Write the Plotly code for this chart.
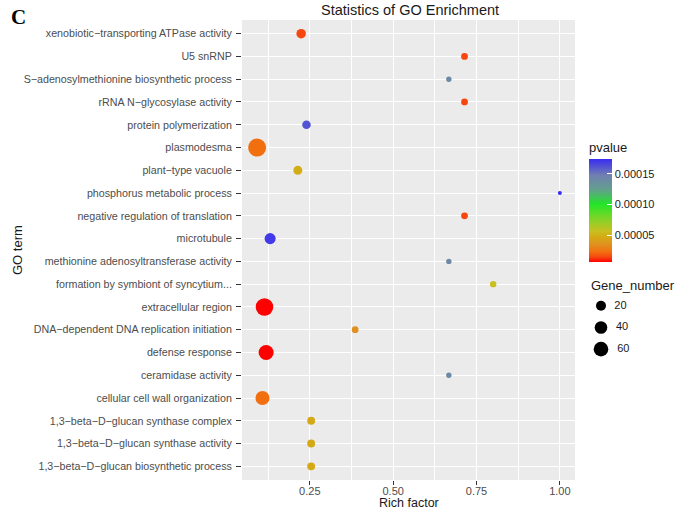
import numpy as np
import plotly.graph_objects as go

# ---------------- data ----------------
terms = [
    "xenobiotic−transporting ATPase activity",
    "U5 snRNP",
    "S−adenosylmethionine biosynthetic process",
    "rRNA N−glycosylase activity",
    "protein polymerization",
    "plasmodesma",
    "plant−type vacuole",
    "phosphorus metabolic process",
    "negative regulation of translation",
    "microtubule",
    "methionine adenosyltransferase activity",
    "formation by symbiont of syncytium...",
    "extracellular region",
    "DNA−dependent DNA replication initiation",
    "defense response",
    "ceramidase activity",
    "cellular cell wall organization",
    "1,3−beta−D−glucan synthase complex",
    "1,3−beta−D−glucan synthase activity",
    "1,3−beta−D−glucan biosynthetic process",
]
rich_factor = [0.224, 0.714, 0.667, 0.714, 0.240, 0.092, 0.214, 1.000, 0.714, 0.131,
               0.667, 0.800, 0.114, 0.386, 0.119, 0.667, 0.108, 0.254, 0.254, 0.254]
gene_number = [17, 5, 2, 5, 12, 104, 14, 1, 5, 27,
               2, 4, 98, 5, 65, 2, 54, 9, 9, 9]
pvalue = [1.45e-5, 1.45e-5, 1.4e-4, 1.45e-5, 1.62e-4, 2.3e-5, 4.8e-5, 1.74e-4, 1.45e-5, 1.7e-4,
          1.4e-4, 5.7e-5, 6.5e-6, 3.5e-5, 6.5e-6, 1.4e-4, 2.3e-5, 4.6e-5, 4.6e-5, 4.6e-5]
legend_sizes = [20, 40, 60]
x_ticks = [0.25, 0.50, 0.75, 1.00]
x_tick_labels = ["0.25", "0.50", "0.75", "1.00"]
p_ticks = [0.00005, 0.00010, 0.00015]
p_tick_labels = ["0.00005", "0.00010", "0.00015"]

# ---------------- size scale (ggplot-like area scale) ----------------
gmin, gmax = min(gene_number), max(gene_number)
def size_px(g):
    return 4 + 14 * np.sqrt((np.asarray(g, float) - gmin) / (gmax - gmin))

colorscale = [
    [0.00, "#FF0000"],
    [0.05, "#F54A10"],
    [0.10, "#F27010"],
    [0.17, "#E09020"],
    [0.24, "#D4AA14"],
    [0.30, "#C8C020"],
    [0.42, "#80D428"],
    [0.56, "#22E628"],
    [0.70, "#62A08C"],
    [0.84, "#7080B0"],
    [1.00, "#3A2CF2"],
]

GRAY = "#4D4D4D"
DARK = "#1A1A1A"
FONT = "Liberation Sans, Arial, sans-serif"

# pixel layout
W, H = 677, 510
ML, MR, MT, MB = 242, 5, 20, 30
PW, PH = W - ML - MR, H - MT - MB
PANEL_RIGHT = 575
def px_x(x):
    return (x - ML) / PW
def px_y(y):
    return (H - MB - y) / PH

fig = go.Figure()

fig.add_trace(go.Scatter(
    x=rich_factor, y=terms, mode="markers",
    marker=dict(
        size=size_px(gene_number), sizemode="diameter",
        color=pvalue, colorscale=colorscale,
        cmin=min(pvalue), cmax=max(pvalue),
        line=dict(width=0), opacity=1,
        colorbar=dict(
            title=dict(text="pvalue", side="top", font=dict(size=13, color=DARK, family=FONT)),
            x=px_x(589), xanchor="left", xpad=0,
            y=px_y(200.5), yanchor="middle", ypad=0,
            len=123, lenmode="pixels", thickness=23, thicknessmode="pixels",
            outlinewidth=0,
            tickvals=p_ticks, ticktext=p_tick_labels,
            ticks="inside", ticklen=5, tickcolor="white", tickwidth=1,
            tickfont=dict(size=11, color=DARK, family=FONT),
        ),
    ),
    showlegend=False, hoverinfo="x+y",
))

# size legend on hidden secondary axes
fig.add_trace(go.Scatter(
    x=[11] * len(legend_sizes), y=[str(s) for s in legend_sizes],
    mode="markers+text",
    text=["  " + str(s) for s in legend_sizes],
    textposition="middle right",
    textfont=dict(size=11, color=DARK, family=FONT),
    marker=dict(size=size_px(legend_sizes), sizemode="diameter", color="#000000",
                opacity=1, line=dict(width=0)),
    xaxis="x2", yaxis="y2", showlegend=False, hoverinfo="skip", cliponaxis=False,
))

fig.update_layout(
    width=W, height=H,
    margin=dict(l=ML, r=MR, t=MT, b=MB, autoexpand=False),
    paper_bgcolor="white", plot_bgcolor="rgba(0,0,0,0)",
    font=dict(family=FONT, color=GRAY),
    xaxis=dict(
        domain=[0, px_x(PANEL_RIGHT)],
        range=[0.0466, 1.0454],
        tickvals=x_ticks, ticktext=x_tick_labels,
        tickfont=dict(size=11, color=GRAY),
        ticks="outside", ticklen=4, tickcolor="#333333", tickwidth=1,
        ticklabelstandoff=-3,
        showgrid=True, gridcolor="white", gridwidth=1.1,
        minor=dict(tick0=0.125, dtick=0.25, showgrid=True, gridcolor="white", gridwidth=0.5, ticks=""),
        zeroline=False, showline=False, automargin=False,
    ),
    yaxis=dict(
        type="category",
        categoryorder="array", categoryarray=terms[::-1],
        range=[-0.6, len(terms) - 0.4],
        tickfont=dict(size=10.7, color=GRAY),
        ticks="outside", ticklen=5, tickcolor="#333333", tickwidth=1,
        ticklabelstandoff=2,
        showgrid=True, gridcolor="white", gridwidth=1.1,
        zeroline=False, showline=False, automargin=False,
    ),
    xaxis2=dict(domain=[px_x(590), px_x(660)], range=[0, 70],
                visible=False, fixedrange=True, anchor="y2", automargin=False),
    yaxis2=dict(domain=[px_y(360), px_y(295)], type="category",
                categoryorder="array", categoryarray=[str(s) for s in legend_sizes],
                range=[2.5, -0.5], visible=False, fixedrange=True, anchor="x2", automargin=False),
    shapes=[
        dict(type="rect", xref="x domain", yref="y domain", x0=0, x1=1, y0=0, y1=1,
             fillcolor="#EBEBEB", line=dict(width=0), layer="below"),
    ],
    annotations=[
        dict(text="Statistics of GO Enrichment", x=px_x(410), y=px_y(10),
             xanchor="center", yanchor="middle",
             font=dict(size=14.5, color=DARK)),
        dict(text="<b>C</b>", x=px_x(9), y=px_y(3), xanchor="left", yanchor="top",
             font=dict(size=21, color="black", family="Liberation Serif, Times New Roman, serif")),
        dict(text="Gene_number", x=px_x(589), y=px_y(285), xanchor="left", yanchor="middle",
             font=dict(size=13, color=DARK)),
        dict(text="Rich factor", x=px_x(408.5), y=px_y(503), xanchor="center", yanchor="middle",
             font=dict(size=12.5, color=DARK)),
        dict(text="GO term", x=px_x(17), y=px_y(250), xanchor="center", yanchor="middle",
             textangle=-90, font=dict(size=13, color=DARK)),
    ],
)
for a in fig.layout.annotations:
    a.xref = "paper"
    a.yref = "paper"
    a.showarrow = False

fig.write_html("out.html", config={"displayModeBar": False},
               post_script="document.body.style.margin='0';document.body.style.padding='0';")
